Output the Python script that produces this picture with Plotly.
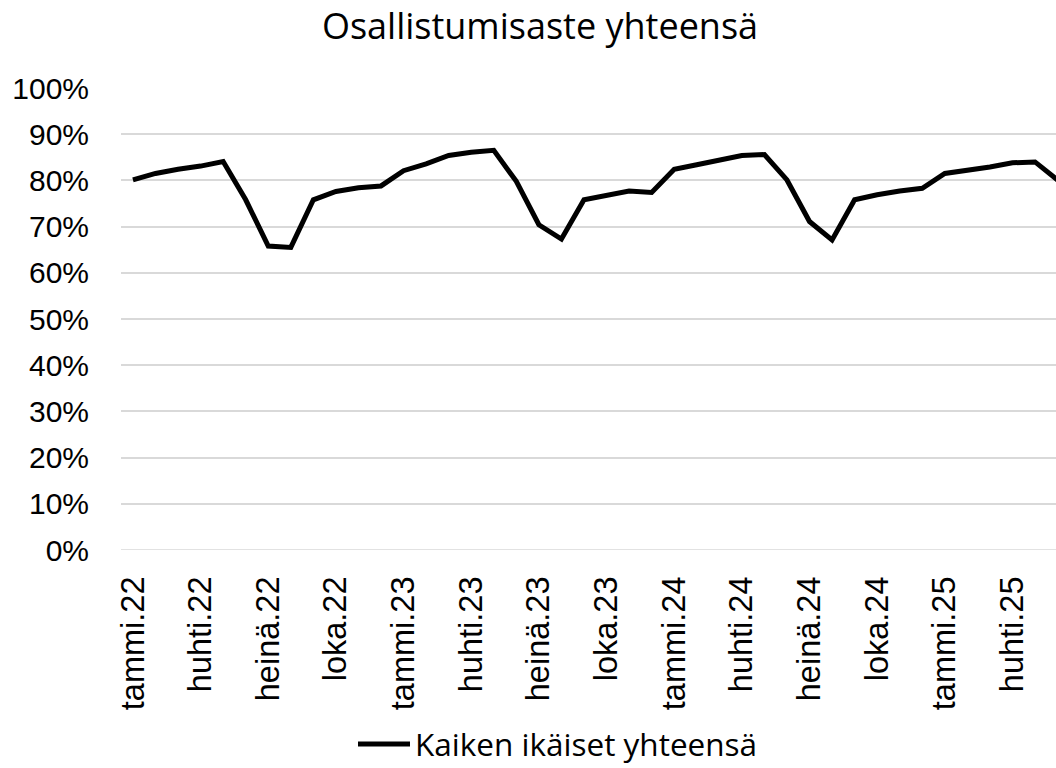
import plotly.graph_objects as go

months = ["tammi", "helmi", "maalis", "huhti", "touko", "kesä",
          "heinä", "elo", "syys", "loka", "marras", "joulu"]
years = ["22", "23", "24", "25"]
categories = [f"{m}.{y}" for y in years for m in months][:42]

values = [
    80.1, 81.5, 82.4, 83.1, 84.1, 75.8, 65.8, 65.5, 75.8, 77.6, 78.4, 78.8,
    82.1, 83.6, 85.4, 86.1, 86.5, 79.8, 70.4, 67.3, 75.8, 76.7, 77.7, 77.4,
    82.4, 83.4, 84.4, 85.4, 85.6, 80.1, 71.1, 67.1, 75.8, 76.9, 77.7, 78.3,
    81.5, 82.1, 82.9, 83.8, 84.0, 80.1,
]
series_name = "Kaiken ikäiset yhteensä"
title_text = "Osallistumisaste yhteensä"

tick_idx = list(range(0, len(categories), 3))
tick_text = [categories[i] for i in tick_idx]

W, H = 1056, 768
L, T, B = 121, 88, 218
plot_w = W - L
plot_h = H - T - B

fig = go.Figure()
fig.add_trace(go.Scatter(
    x=list(range(len(categories))),
    y=[v / 100 for v in values],
    mode="lines",
    name=series_name,
    line=dict(color="#000000", width=5),
    hoverinfo="skip",
))

fig.update_layout(
    width=W, height=H,
    paper_bgcolor="white", plot_bgcolor="white",
    margin=dict(l=L, r=0, t=T, b=B, pad=0, autoexpand=False),
    title=dict(text=title_text, x=540 / W, xref="container", xanchor="center",
               y=1 - 26 / H, yref="container", yanchor="middle",
               font=dict(family="Open Sans", size=36, color="#000000")),
    showlegend=True,
    legend=dict(orientation="h", x=(558 - L) / plot_w, xanchor="center",
                y=-194 / plot_h, yanchor="middle", itemwidth=52,
                font=dict(family="Open Sans", size=31.5, color="#000000")),
    xaxis=dict(
        range=[-0.53, 40.93], automargin=False,
        tickmode="array", tickvals=tick_idx, ticktext=tick_text,
        tickangle=-90, showgrid=False, zeroline=False, showline=False,
        ticks="", ticklabelstandoff=19,
        tickfont=dict(family="Liberation Sans", size=32.5, color="#000000"),
    ),
    yaxis=dict(
        range=[0, 1], dtick=0.1, tickformat=".0%", automargin=False,
        showgrid=True, gridcolor="#d9d9d9", gridwidth=1.5,
        zeroline=False, showline=False, ticks="", ticklabelstandoff=31,
        tickfont=dict(family="Liberation Sans", size=30, color="#000000"),
    ),
)
fig.add_hline(y=0, line=dict(color="#d9d9d9", width=1.5), layer="below")

fig.write_html(
    "out.html",
    config={"displayModeBar": False},
    post_script="document.body.style.margin='0';document.body.style.overflow='hidden';",
)
